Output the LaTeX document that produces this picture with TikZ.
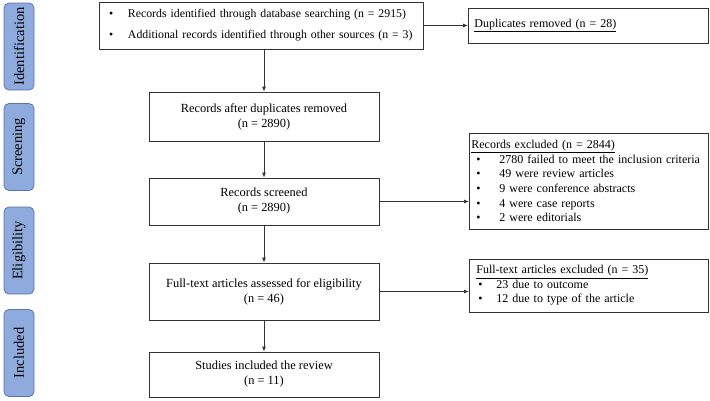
\documentclass[tikz,border=0pt]{standalone}
\usepackage{fontspec}
\setmainfont{Liberation Serif}
\usepackage{xcolor}
\usetikzlibrary{positioning, arrows, arrows.meta}

\definecolor{phasefill}{HTML}{8FAADC}
\definecolor{phaseborder}{HTML}{5574B2}
\newcommand{\itm}[3]{\hspace*{#1}\makebox[#2][l]{\textbullet}#3}

\begin{document}
\begin{tikzpicture}[x=1pt, y=-1pt,
		phase/.style={draw=phaseborder, fill=phasefill, line width=0.8pt, rounded corners=5pt, rotate=90, minimum width=87pt, minimum height=30pt, inner sep=0pt, font=\fontsize{14.5}{16}\selectfont},
		box/.style={draw=black!80, line width=0.8pt, minimum width=230pt, inner sep=0pt, align=center, font=\fontsize{12.4}{15}\selectfont},
		side/.style={draw=black!80, line width=0.8pt, anchor=west, inner ysep=0pt, align=left, font=\fontsize{12}{14.6}\selectfont},
		link/.style={->, draw=black!80, line width=0.8pt},
		>={Latex[length=5pt, width=4pt]}]
		\useasboundingbox (0,0) rectangle (710,400);

		\node[phase] (ident) at (19, 46.5) {Identification};
		\node[phase] (screen) at (19, 147) {Screening};
		\node[phase] (elig) at (19, 250.5) {Eligibility};
		\node[phase] (incl) at (19, 353) {Included};

		\node[box, text width=314pt, inner xsep=5pt, minimum height=47pt, align=left, font=\fontsize{11.8}{21}\selectfont] (found) at (261, 25.5) {\itm{5pt}{19pt}{Records identified through database searching (n = 2915)}\\\itm{5pt}{19pt}{Additional records identified through other sources (n = 3)}};
		\node[box, minimum height=49pt] (after) at (264, 116.5) {Records after duplicates removed\\(n = 2890)};
		\node[box, minimum height=47pt] (screened) at (264, 201.5) {Records screened\\(n = 2890)};
		\node[box, minimum height=57pt] (full) at (264, 291.5) {Full-text articles assessed for eligibility\\(n = 46)};
		\node[box, minimum height=45pt] (studies) at (264, 374.5) {Studies included the review\\(n = 11)};

		\node[side, text width=228pt, inner xsep=6pt, minimum height=35pt] (dups) at (468, 25.5) {\underline{Duplicates removed (n = 28)}};
		\node[side, text width=235pt, inner xsep=2pt, minimum height=96pt] (excl) at (469, 181) {\underline{Records excluded (n = 2844)}\\\itm{5pt}{23pt}{2780 failed to meet the inclusion criteria}\\\itm{5pt}{23pt}{49 were review articles}\\\itm{5pt}{23pt}{9 were conference abstracts}\\\itm{5pt}{23pt}{4 were case reports}\\\itm{5pt}{23pt}{2 were editorials}};
		\node[side, text width=225pt, inner xsep=7pt, minimum height=53pt] (ftexcl) at (469, 285.5) {\underline{Full-text articles excluded (n = 35)}\\\itm{2pt}{18pt}{23 due to outcome}\\\itm{2pt}{18pt}{12 due to type of the article}};

		\draw[link] (found.south -| after.north) -- (after.north);
		\draw[link] (after) -- (screened);
		\draw[link] (screened) -- (full);
		\draw[link] (full) -- (studies);
		\draw[link] (found.east) -- (dups.west);
		\draw[link] (screened.east) -- (screened.east -| excl.west);
		\draw[link] (full.east) -- (full.east -| ftexcl.west);
	\end{tikzpicture}
\end{document}
